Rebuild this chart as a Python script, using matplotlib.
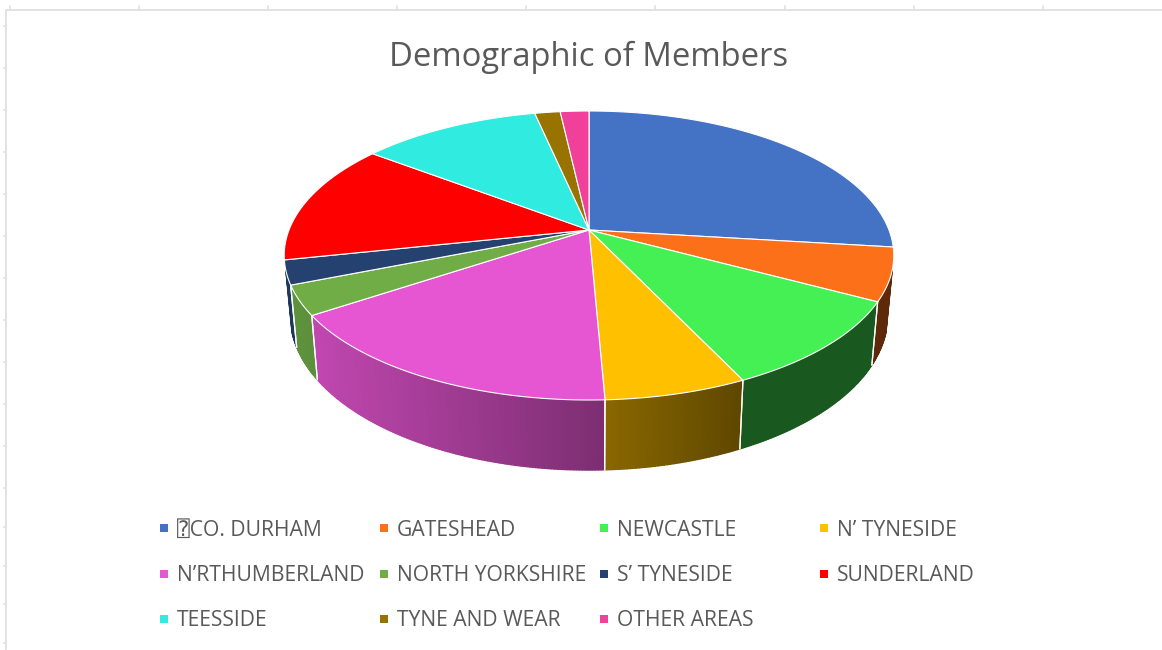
#!/usr/bin/env python
# -*- coding: utf-8 -*-
import numpy as np
import matplotlib
matplotlib.use('Agg')
import matplotlib.pyplot as plt

# share of members, percent
areas = ['\u2370CO. DURHAM', 'GATESHEAD', 'NEWCASTLE', 'N\u2019 TYNESIDE',
         'N\u2019RTHUMBERLAND', 'NORTH YORKSHIRE', 'S\u2019 TYNESIDE', 'SUNDERLAND',
         'TEESSIDE', 'TYNE AND WEAR', 'OTHER AREAS']
members = [26.9, 5.9, 10.1, 6.4, 16.4, 3.3, 2.7, 13.6, 11.3, 1.6, 1.8]
colors = ['#4472c4', '#fb7019', '#44f053', '#ffc000',
          '#e655d2', '#70ad47', '#24416f', '#ff0000',
          '#30ebdf', '#997300', '#f0409a']
top_ticks = [10, 139, 268, 397, 526, 655, 785, 914, 1043]
left_ticks = [26, 68, 110, 152, 194, 236, 278, 320, 362, 404, 446, 488, 527, 566, 604, 643]

plt.rcParams['font.family'] = ['Open Sans', 'DejaVu Sans', 'DejaVu Sans Mono']

# perspective of the pie top, in pixels
CX, CY = 589, 230
A, B, P = 300, 140, 0.1765
# the wall only shows between these angles
WALL_FROM, WALL_TO = 106, 254


def rim(angle):
    # angle in degrees, clockwise from 12 o'clock
    a = np.radians(angle)
    X, Y = np.sin(a), -np.cos(a)
    w = 1 - P * Y
    return CX + A * X / w, CY + B * Y / w


def lower(x, y):
    # same point on the bottom edge of the pie
    return CX + (x - CX) * 0.98, 470 + 1.07 * (y - 400)


def shade(color, x):
    f = np.interp(x, [290, 318, 605, 742, 900], [0.84, 0.83, 0.54, 0.37, 0.37])
    return tuple(np.array(matplotlib.colors.to_rgb(color)) * f)


fig = plt.figure(figsize=(11.62, 6.5), dpi=100)
ax = fig.add_axes([0, 0, 1, 1])
ax.set_xlim(0, 1162)
ax.set_ylim(650, 0)
ax.axis('off')

# sheet edge behind the chart
ax.plot([6, 6], [10, 650], color='#e2e2e2', lw=1.4, zorder=1)
ax.plot([6, 1162], [10, 10], color='#e2e2e2', lw=1.4, zorder=1)
for t in top_ticks:
    ax.plot([t, t], [6, 10], color='#e2e2e2', lw=1.2, zorder=1)
for t in left_ticks:
    ax.plot([4, 6], [t, t], color='#e2e2e2', lw=1.2, zorder=1)

edges = np.concatenate([[0], np.cumsum(members) / np.sum(members) * 360])

# side wall first, outer slices before the ones facing us
mids = (edges[:-1] + edges[1:]) / 2
for i in sorted(range(len(members)), key=lambda k: -abs(mids[k] - 180)):
    a0, a1 = max(edges[i], WALL_FROM), min(edges[i + 1], WALL_TO)
    if a1 <= a0:
        continue
    steps = np.linspace(a0, a1, max(int((a1 - a0) * 2), 2))
    for s0, s1 in zip(steps[:-1], steps[1:]):
        x0, y0 = rim(s0)
        x1, y1 = rim(s1)
        bx0, by0 = lower(x0, y0)
        bx1, by1 = lower(x1, y1)
        c = shade(colors[i], (x0 + x1) / 2)
        ax.fill([x0, x1, bx1, bx0], [y0, y1, by1, by0], color=c, lw=1.0, zorder=2)
    for a in (edges[i], edges[i + 1]):
        if WALL_FROM < a < WALL_TO:
            x0, y0 = rim(a)
            bx, by = lower(x0, y0)
            ax.plot([x0, bx], [y0, by], color='white', lw=0.9, zorder=3)

# top of the pie
for i in range(len(members)):
    steps = np.linspace(edges[i], edges[i + 1], 80)
    xs, ys = rim(steps)
    ax.fill(np.r_[CX, xs], np.r_[CY, ys], facecolor=colors[i], edgecolor='white', lw=0.8,
            joinstyle='round', zorder=4)

ax.text(589, 57.5, 'Demographic of Members', fontsize=23.6, color='#595959', ha='center', va='center')

# legend, 4 columns
for i, name in enumerate(areas):
    col, row = i % 4, i // 4
    x = 164 + col * 220
    y = 528 + row * 45.5
    ax.scatter([x], [y], marker='s', s=33, color=colors[i], linewidths=0, zorder=5)
    ax.text(x + 13, y + 2, name, fontsize=15.2, color='#595959', ha='left', va='center')

fig.savefig('out.png', dpi=100)
